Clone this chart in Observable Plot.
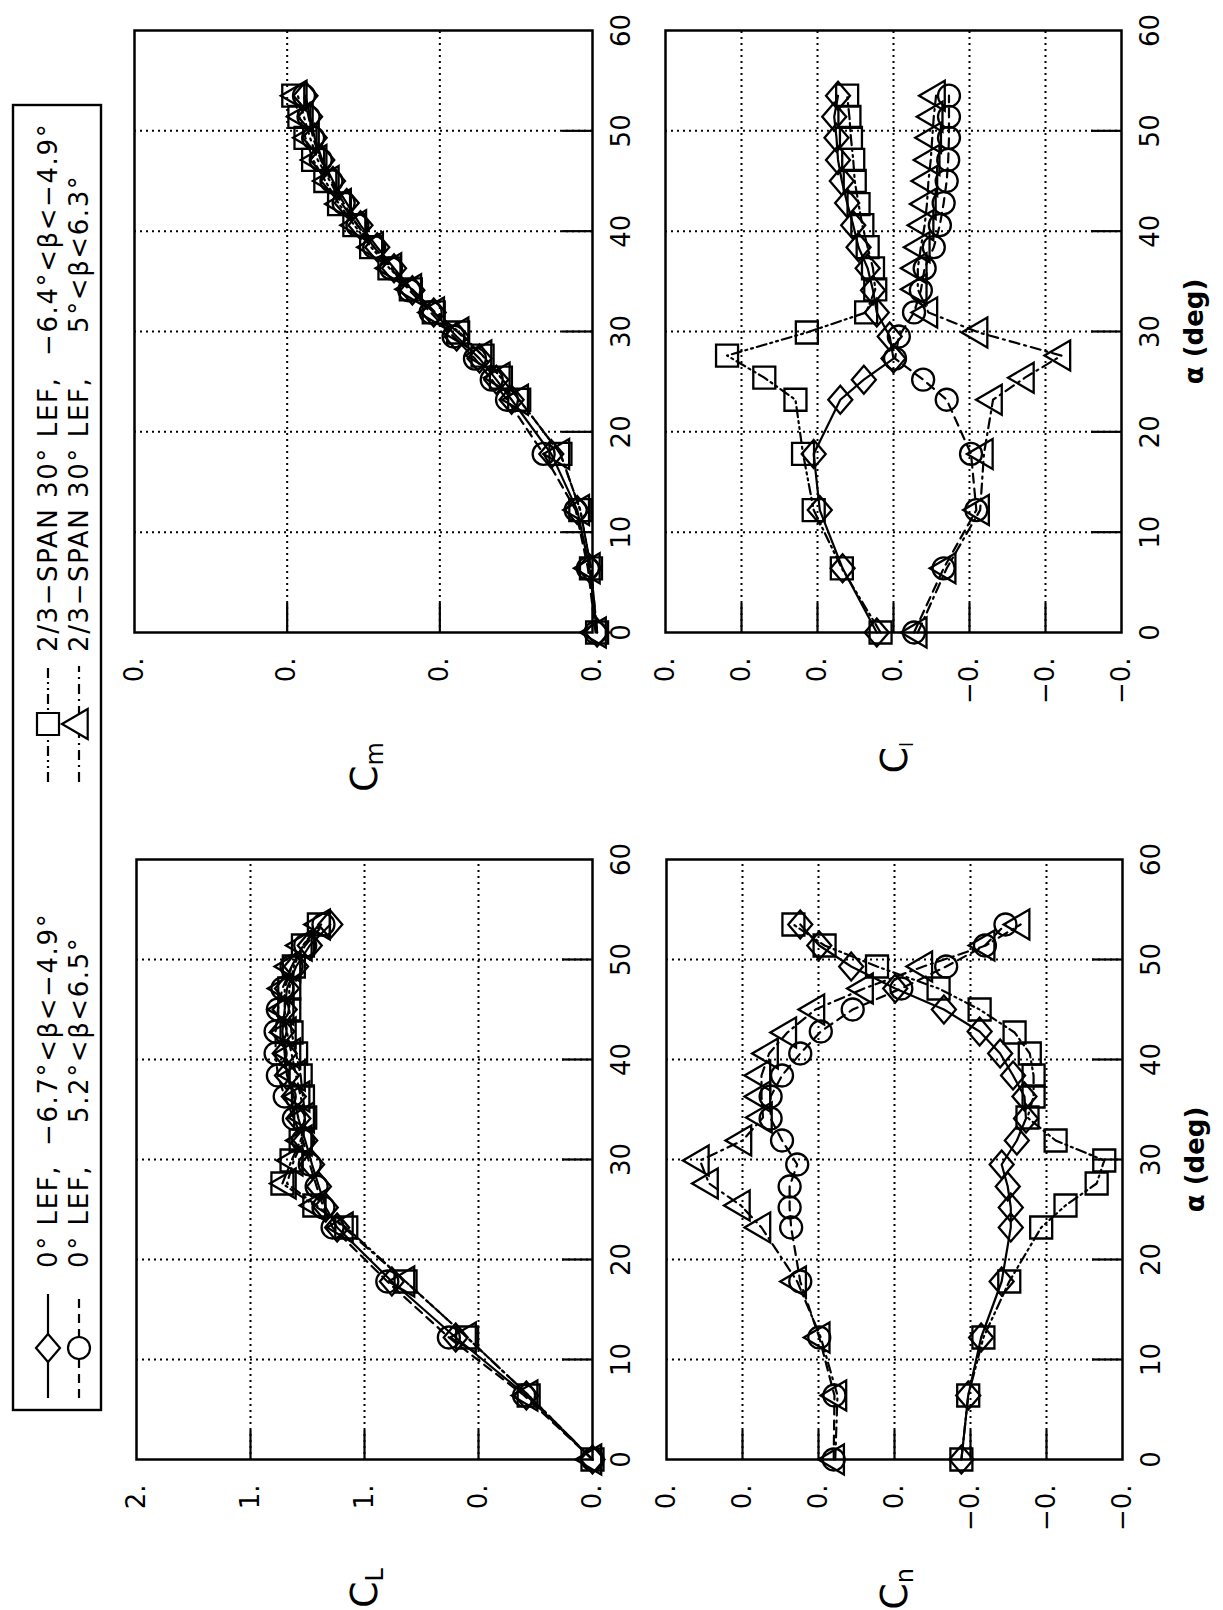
<!DOCTYPE html>
<html>
<head>
<meta charset="utf-8">
<script src="https://cdn.jsdelivr.net/npm/d3@7"></script>
<script src="https://cdn.jsdelivr.net/npm/@observablehq/plot@0.6"></script>
<style>
  html, body { margin: 0; padding: 0; background: #fff; overflow: hidden; width: 1223px; height: 1610px; }
  #page {
    position: absolute; left: 0; top: 0; width: 1610px; height: 1223px;
    transform-origin: 0 0; transform: translate(0px, 1610px) rotate(-90deg);
    font-family: "DejaVu Sans", sans-serif; color: #000; background: #fff;
  }
  .panel { position: absolute; }
  .ctitle { position: absolute; font-size: 38px; line-height: 38px; white-space: nowrap; text-align: right; }
  .ctitle sub { font-size: 24px; vertical-align: baseline; position: relative; top: 6px; }
</style>
</head>
<body>
<div id="page"></div>
<script>
// ---------------- data ----------------
const alphaTicks = [0, 10, 20, 30, 40, 50, 60];
const alphaLEF0  = [0, 6.4, 12.2, 17.8, 23.2, 25.2, 27.3, 29.5, 31.9, 34.1, 36.3, 38.4, 40.6, 42.8, 45.0, 47.1, 49.3, 51.4, 53.5];
const alphaLEF30 = [0, 6.4, 12.2, 17.8, 23.2, 25.4, 27.6, 29.9, 31.9, 34.2, 36.3, 38.4, 40.6, 42.7, 45.0, 47.1, 49.3, 51.4, 53.5];

// C_L
const CL_lef0_negBeta  = [0.00, 0.29, 0.60, 0.88, 1.12, 1.17, 1.20, 1.23, 1.26, 1.29, 1.31, 1.34, 1.35, 1.36, 1.35, 1.34, 1.30, 1.24, 1.15];
const CL_lef0_posBeta  = [0.00, 0.30, 0.63, 0.90, 1.14, 1.18, 1.21, 1.24, 1.27, 1.31, 1.35, 1.38, 1.39, 1.39, 1.38, 1.36, 1.32, 1.26, 1.18];
const CL_lef30_negBeta = [0.00, 0.28, 0.55, 0.82, 1.08, 1.22, 1.36, 1.32, 1.28, 1.26, 1.27, 1.28, 1.30, 1.32, 1.33, 1.33, 1.31, 1.27, 1.20];
const CL_lef30_posBeta = [0.00, 0.28, 0.55, 0.82, 1.09, 1.21, 1.34, 1.31, 1.27, 1.26, 1.28, 1.30, 1.32, 1.34, 1.35, 1.35, 1.32, 1.27, 1.19];

// C_m
const Cm_lef0_negBeta  = [-0.003, 0.002, 0.010, 0.027, 0.053, 0.063, 0.074, 0.089, 0.104, 0.118, 0.130, 0.141, 0.152, 0.161, 0.170, 0.177, 0.182, 0.185, 0.188];
const Cm_lef0_posBeta  = [-0.002, 0.003, 0.011, 0.032, 0.056, 0.066, 0.077, 0.091, 0.106, 0.120, 0.132, 0.143, 0.154, 0.163, 0.171, 0.178, 0.183, 0.186, 0.189];
const Cm_lef30_negBeta = [-0.003, 0.001, 0.008, 0.021, 0.048, 0.060, 0.072, 0.088, 0.104, 0.119, 0.133, 0.145, 0.156, 0.166, 0.175, 0.183, 0.188, 0.192, 0.196];
const Cm_lef30_posBeta = [-0.003, 0.001, 0.008, 0.021, 0.048, 0.060, 0.072, 0.087, 0.103, 0.118, 0.131, 0.143, 0.154, 0.164, 0.172, 0.180, 0.185, 0.189, 0.193];

// C_n
const Cn_lef0_negBeta  = [-0.0088, -0.0097, -0.0114, -0.0141, -0.0153, -0.0153, -0.0149, -0.0141, -0.0161, -0.0173, -0.0171, -0.0156, -0.0139, -0.0112, -0.0065, -0.0001, 0.0057, 0.0099, 0.0124];
const Cn_lef0_posBeta  = [0.0080, 0.0079, 0.0099, 0.0124, 0.0136, 0.0138, 0.0138, 0.0128, 0.0148, 0.0163, 0.0163, 0.0148, 0.0124, 0.0097, 0.0055, -0.0009, -0.0068, -0.0119, -0.0146];
const Cn_lef30_negBeta = [-0.0088, -0.0097, -0.0117, -0.0151, -0.0193, -0.0225, -0.0266, -0.0276, -0.0212, -0.0175, -0.0183, -0.0183, -0.0178, -0.0158, -0.0112, -0.0058, 0.0023, 0.0092, 0.0133];
const Cn_lef30_posBeta = [0.0078, 0.0075, 0.0097, 0.0128, 0.0175, 0.0202, 0.0244, 0.0256, 0.0200, 0.0173, 0.0175, 0.0175, 0.0165, 0.0141, 0.0104, 0.0040, -0.0038, -0.0120, -0.0166];

// C_l
const Cl_lef0_negBeta  = [0.0022, 0.0067, 0.0097, 0.0105, 0.0070, 0.0039, 0.0000, 0.0005, 0.0022, 0.0027, 0.0034, 0.0046, 0.0053, 0.0061, 0.0068, 0.0073, 0.0075, 0.0078, 0.0073];
const Cl_lef0_posBeta  = [-0.0027, -0.0066, -0.0109, -0.0102, -0.0070, -0.0039, -0.0002, -0.0007, -0.0027, -0.0036, -0.0041, -0.0053, -0.0061, -0.0066, -0.0070, -0.0072, -0.0073, -0.0073, -0.0073];
const Cl_lef30_negBeta = [0.0017, 0.0068, 0.0105, 0.0119, 0.0129, 0.0170, 0.0219, 0.0114, 0.0036, 0.0024, 0.0027, 0.0034, 0.0041, 0.0046, 0.0051, 0.0053, 0.0056, 0.0058, 0.0061];
const Cl_lef30_posBeta = [-0.0032, -0.0070, -0.0114, -0.0119, -0.0131, -0.0173, -0.0221, -0.0112, -0.0046, -0.0032, -0.0032, -0.0036, -0.0041, -0.0044, -0.0046, -0.0049, -0.0051, -0.0053, -0.0056];

// tick values and their (truncated) labels as printed
const CL_ticks = [2, 1.5, 1, 0.5, 0];
const CL_tickLabels = ["2.", "1.", "1.", "0.", "0."];
const Cm_ticks = [0.3, 0.2, 0.1, 0];
const Cm_tickLabels = ["0.", "0.", "0.", "0."];
const Clat_ticks = [0.03, 0.02, 0.01, 0, -0.01, -0.02, -0.03];
const Clat_tickLabels = ["0.", "0.", "0.", "0.", "\u22120.", "\u22120.", "\u22120."];

// legend texts
const legendConfig = ["0\u00B0 LEF,", "0\u00B0 LEF,", "2/3\u2212SPAN 30\u00B0 LEF,", "2/3\u2212SPAN 30\u00B0 LEF,"];
const legendBeta = ["\u22126.7\u00B0<\u03B2<\u22124.9\u00B0", "5.2\u00B0<\u03B2<6.5\u00B0", "\u22126.4\u00B0<\u03B2<\u22124.9\u00B0", "5\u00B0<\u03B2<6.3\u00B0"];
const xTitle = "\u03B1 (deg)";

// ---------------- symbols & styles ----------------
const symDiamond = { draw(c) { c.moveTo(0, -12); c.lineTo(14, 0); c.lineTo(0, 12); c.lineTo(-14, 0); c.closePath(); } };
const symSquare = { draw(c) { const s = 11; c.moveTo(-s, -s); c.lineTo(s, -s); c.lineTo(s, s); c.lineTo(-s, s); c.closePath(); } };
const symTriangle = { draw(c) { c.moveTo(0, -17); c.lineTo(15, 8.7); c.lineTo(-15, 8.7); c.closePath(); } };
const symCircle = { draw(c) { c.moveTo(11, 0); c.arc(0, 0, 11, 0, 2 * Math.PI); c.closePath(); } };

const styles = [
  { symbol: symDiamond, dash: null },
  { symbol: symCircle, dash: "9,6" },
  { symbol: symSquare, dash: "10,4,2,4,2,4" },
  { symbol: symTriangle, dash: "10,5,2,5" }
];

const page = document.getElementById("page");

function rows(alpha, vals) { return alpha.map((a, i) => ({ a, v: vals[i] })); }

function makePanel({ frame, yDomain, yTicks, yLabels, series, withTitle }) {
  const [x0, x1, y0, y1] = frame;
  const W = x1 - x0, H = y1 - y0;
  const mL = 140, mR = 20, mT = 20, mB = withTitle ? 110 : 70;
  const labelMap = new Map(yTicks.map((t, i) => [t, yLabels[i]]));
  const inner = alphaTicks.slice(1, -1);
  const innerY = yTicks.slice(1, -1);
  const marks = [
    Plot.ruleX(inner, { x: d => d, stroke: "black", strokeWidth: 2, strokeDasharray: "2,4" }),
    Plot.ruleY(innerY, { y: d => d, stroke: "black", strokeWidth: 2, strokeDasharray: "2,4" }),
    Plot.tickX(inner, { x: d => d, insetTop: H - 30, stroke: "black", strokeWidth: 2.2 }),
    Plot.tickY(innerY, { y: d => d, insetRight: W - 30, stroke: "black", strokeWidth: 2.2 }),
    Plot.frame({ stroke: "black", strokeWidth: 2.5 })
  ];
  series.forEach((s, k) => {
    const st = styles[k];
    const data = rows(s.alpha, s.vals);
    marks.push(Plot.line(data, { x: "a", y: "v", stroke: "black", strokeWidth: 2.2, strokeDasharray: st.dash }));
    marks.push(Plot.dot(data, { x: "a", y: "v", symbol: st.symbol, r: 11, stroke: "black", fill: "none", strokeWidth: 2.3 }));
  });
  if (withTitle) {
    marks.push(Plot.text([xTitle], { frameAnchor: "bottom", dy: 81, fontWeight: "bold", fontSize: 26 }));
  }
  const svg = Plot.plot({
    width: W + mL + mR,
    height: H + mT + mB,
    marginLeft: mL, marginRight: mR, marginTop: mT, marginBottom: mB,
    style: { fontFamily: "DejaVu Sans, sans-serif", fontSize: "26px", color: "black", background: "transparent", overflow: "visible" },
    x: { domain: [0, 60], ticks: alphaTicks, tickFormat: d => String(d), tickSize: 0, tickPadding: 19, label: null },
    y: { domain: yDomain, ticks: yTicks, tickFormat: d => labelMap.get(d), tickSize: 0, tickPadding: 25, label: null },
    marks
  });
  const div = document.createElement("div");
  div.className = "panel";
  div.style.left = (x0 - mL) + "px";
  div.style.top = (y0 - mT) + "px";
  div.appendChild(svg);
  page.appendChild(div);
}

function makeTitle(main, sub, right, centerY, subSize) {
  const d = document.createElement("div");
  d.className = "ctitle";
  d.style.right = (1610 - right) + "px";
  d.style.top = (centerY - 19) + "px";
  d.innerHTML = main + "<sub style='font-size:" + subSize + "px'>" + sub + "</sub>";
  page.appendChild(d);
}

// frames in the unrotated page: [xLeft(α=0), xRight(α=60), yTop, yBottom]
makePanel({ frame: [150, 750, 136, 592], yDomain: [0, 2], yTicks: CL_ticks, yLabels: CL_tickLabels, withTitle: false,
  series: [
    { alpha: alphaLEF0, vals: CL_lef0_negBeta }, { alpha: alphaLEF0, vals: CL_lef0_posBeta },
    { alpha: alphaLEF30, vals: CL_lef30_negBeta }, { alpha: alphaLEF30, vals: CL_lef30_posBeta }] });
makePanel({ frame: [977, 1579, 134, 592], yDomain: [0, 0.3], yTicks: Cm_ticks, yLabels: Cm_tickLabels, withTitle: false,
  series: [
    { alpha: alphaLEF0, vals: Cm_lef0_negBeta }, { alpha: alphaLEF0, vals: Cm_lef0_posBeta },
    { alpha: alphaLEF30, vals: Cm_lef30_negBeta }, { alpha: alphaLEF30, vals: Cm_lef30_posBeta }] });
makePanel({ frame: [150, 750, 666, 1122], yDomain: [-0.03, 0.03], yTicks: Clat_ticks, yLabels: Clat_tickLabels, withTitle: true,
  series: [
    { alpha: alphaLEF0, vals: Cn_lef0_negBeta }, { alpha: alphaLEF0, vals: Cn_lef0_posBeta },
    { alpha: alphaLEF30, vals: Cn_lef30_negBeta }, { alpha: alphaLEF30, vals: Cn_lef30_posBeta }] });
makePanel({ frame: [977, 1579, 665, 1121], yDomain: [-0.03, 0.03], yTicks: Clat_ticks, yLabels: Clat_tickLabels, withTitle: true,
  series: [
    { alpha: alphaLEF0, vals: Cl_lef0_negBeta }, { alpha: alphaLEF0, vals: Cl_lef0_posBeta },
    { alpha: alphaLEF30, vals: Cl_lef30_negBeta }, { alpha: alphaLEF30, vals: Cl_lef30_posBeta }] });

makeTitle("C", "L", 42, 364, 24);
makeTitle("C", "m", 868, 364, 24);
makeTitle("C", "n", 42, 894, 24);
makeTitle("C", "l", 868, 894, 18);

// ---------------- legend ----------------
(function legend() {
  const svg = d3.create("svg").attr("width", 1610).attr("height", 110)
    .style("position", "absolute").style("left", "0px").style("top", "0px")
    .style("font-family", "DejaVu Sans, sans-serif");
  svg.append("rect").attr("x", 200).attr("y", 13).attr("width", 1305).attr("height", 88)
    .attr("fill", "none").attr("stroke", "black").attr("stroke-width", 2.4);
  const entries = [
    { col: 0, row: 0 }, { col: 0, row: 1 }, { col: 1, row: 0 }, { col: 1, row: 1 }
  ];
  const colX = [{ l0: 212, l1: 316, m: 262, t: 342, b: 464 }, { l0: 828, l1: 944, m: 886, t: 958, b: 1254 }];
  const rowY = [48, 79];
  entries.forEach((e, k) => {
    const c = colX[e.col], y = rowY[e.row], st = styles[k];
    svg.append("line").attr("x1", c.l0).attr("x2", c.l1).attr("y1", y).attr("y2", y)
      .attr("stroke", "black").attr("stroke-width", 2.2).attr("stroke-dasharray", st.dash);
    const p = d3.path(); st.symbol.draw(p);
    svg.append("path").attr("d", p.toString()).attr("transform", `translate(${c.m},${y})`)
      .attr("fill", "white").attr("stroke", "black").attr("stroke-width", 2.2);
    svg.append("text").attr("x", c.t).attr("y", y + 9).attr("font-size", 26).attr("letter-spacing", 1.6)
      .text(legendConfig[k]);
    const bx = c.b + (legendBeta[k].startsWith("\u2212") ? 0 : 23);
    svg.append("text").attr("x", bx).attr("y", y + 9).attr("font-size", 26).attr("letter-spacing", 1.6)
      .text(legendBeta[k]);
  });
  page.appendChild(svg.node());
})();
</script>
</body>
</html>
